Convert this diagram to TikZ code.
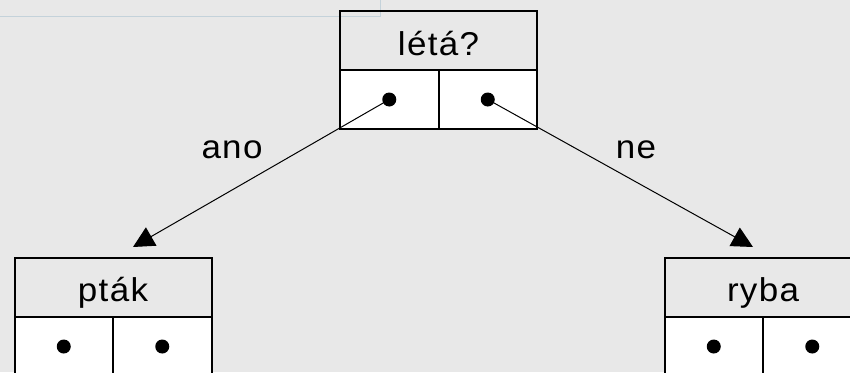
\documentclass[tikz,border=0pt]{standalone}
\usepackage{fontspec}
\setmainfont{Liberation Sans}[FakeStretch=1.06, LetterSpace=4]
\usetikzlibrary{arrows.meta}
\definecolor{bggray}{HTML}{E8E8E8}
\definecolor{guideblue}{HTML}{C4D2DA}
\tikzset{
  cellbox/.style={draw=black, line width=2pt, rectangle, inner sep=0pt, outer sep=0pt},
  headcell/.style={cellbox, minimum width=197pt, minimum height=59pt,
     text height=29.5pt, text depth=0pt, font=\fontsize{33}{39}\selectfont},
  ptrcell/.style={cellbox, fill=white, minimum width=98.5pt, minimum height=59pt},
  dotn/.style={circle, fill=black, inner sep=0pt, minimum size=14pt},
  conn/.style={line width=1pt, -{Triangle[length=21pt,width=21pt]}},
  lbl/.style={inner sep=0pt, anchor=base, font=\fontsize{33}{39}\selectfont}
}
\begin{document}
\begin{tikzpicture}[x=1pt,y=-1pt]
\useasboundingbox (0,0) rectangle (850,372);
\fill[bggray] (0,0) rectangle (850,372);
\clip (0,0) rectangle (850,372);
\draw[guideblue, line width=0.7pt] (0,16) -- (380,16) -- (380,0);
% top node
\node[headcell] (rootH) at (438.5,40.5) {létá?};
\node[ptrcell] (rootL) at (389.25,99.5) {};
\node[ptrcell] (rootR) at (487.75,99.5) {};
\node[dotn] (rootLd) at (rootL.center) {};
\node[dotn] (rootRd) at (rootR.center) {};
% left node
\node[headcell] (leftH) at (113,287) {pták};
\node[ptrcell] (leftL) at (63.75,346.5) {};
\node[ptrcell] (leftR) at (162.25,346.5) {};
\node[dotn] (leftLd) at (leftL.center) {};
\node[dotn] (leftRd) at (leftR.center) {};
% right node
\node[headcell] (rightH) at (763,287) {ryba};
\node[ptrcell] (rightL) at (713.75,346.5) {};
\node[ptrcell] (rightR) at (812.25,346.5) {};
\node[dotn] (rightLd) at (rightL.center) {};
\node[dotn] (rightRd) at (rightR.center) {};
% connectors
\coordinate (tipL) at (133,247);
\coordinate (tipR) at (753,247);
\draw[conn] (rootLd.center) -- (tipL);
\draw[conn] (rootRd.center) -- (tipR);
\node[lbl] (ano) at (232,158) {ano};
\node[lbl] (ne) at (636,158) {ne};
\end{tikzpicture}
\end{document}
